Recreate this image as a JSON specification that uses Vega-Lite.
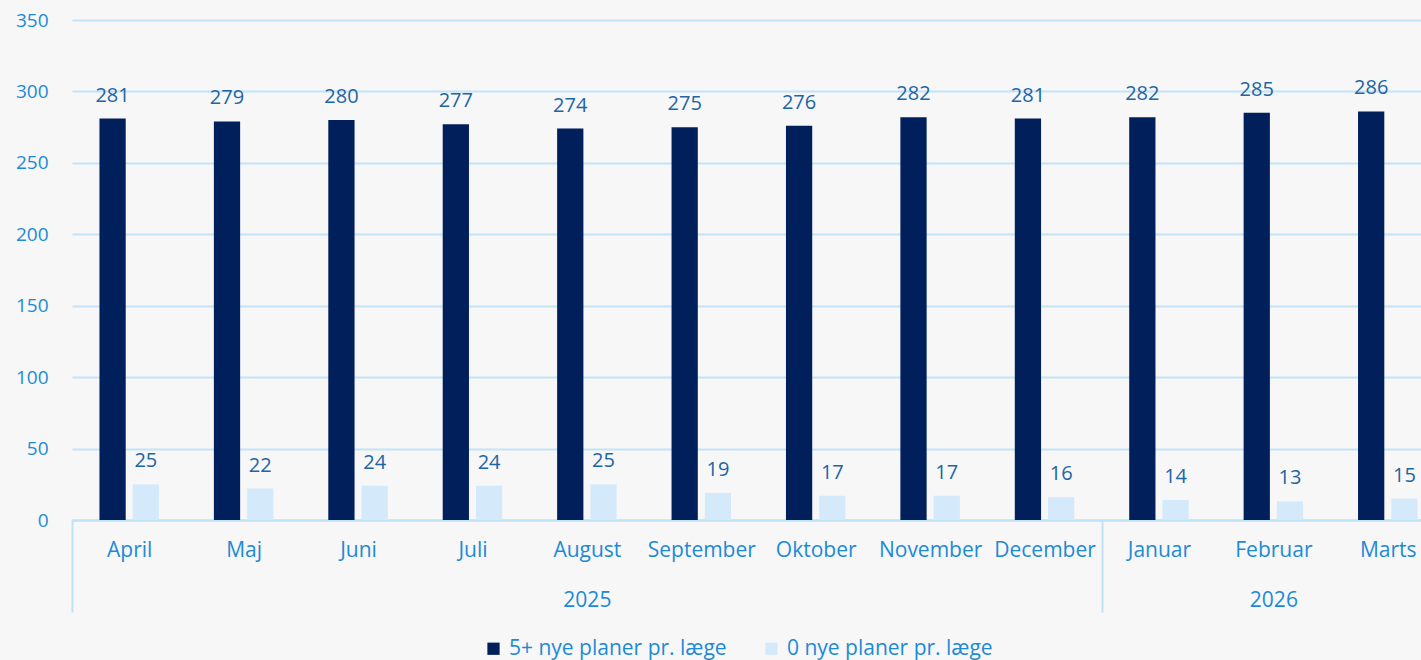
{
  "$schema": "https://vega.github.io/schema/vega-lite/v6.json",
  "autosize": "none",
  "width": 1349,
  "height": 500,
  "padding": {"left": 72, "top": 20, "right": 0, "bottom": 140},
  "background": "#f7f7f7",
  "config": {
    "view": {"stroke": null},
    "font": "Open Sans",
    "axis": {"labelFont": "Open Sans", "labelColor": "#1c8ad6"},
    "legend": {"labelFont": "Open Sans"}
  },
  "data": {
    "values": [
      {"month": "April", "series": "5+ nye planer pr. læge", "value": 281},
      {"month": "Maj", "series": "5+ nye planer pr. læge", "value": 279},
      {"month": "Juni", "series": "5+ nye planer pr. læge", "value": 280},
      {"month": "Juli", "series": "5+ nye planer pr. læge", "value": 277},
      {"month": "August", "series": "5+ nye planer pr. læge", "value": 274},
      {"month": "September", "series": "5+ nye planer pr. læge", "value": 275},
      {"month": "Oktober", "series": "5+ nye planer pr. læge", "value": 276},
      {"month": "November", "series": "5+ nye planer pr. læge", "value": 282},
      {"month": "December", "series": "5+ nye planer pr. læge", "value": 281},
      {"month": "Januar", "series": "5+ nye planer pr. læge", "value": 282},
      {"month": "Februar", "series": "5+ nye planer pr. læge", "value": 285},
      {"month": "Marts", "series": "5+ nye planer pr. læge", "value": 286},
      {"month": "April", "series": "0 nye planer pr. læge", "value": 25},
      {"month": "Maj", "series": "0 nye planer pr. læge", "value": 22},
      {"month": "Juni", "series": "0 nye planer pr. læge", "value": 24},
      {"month": "Juli", "series": "0 nye planer pr. læge", "value": 24},
      {"month": "August", "series": "0 nye planer pr. læge", "value": 25},
      {"month": "September", "series": "0 nye planer pr. læge", "value": 19},
      {"month": "Oktober", "series": "0 nye planer pr. læge", "value": 17},
      {"month": "November", "series": "0 nye planer pr. læge", "value": 17},
      {"month": "December", "series": "0 nye planer pr. læge", "value": 16},
      {"month": "Januar", "series": "0 nye planer pr. læge", "value": 14},
      {"month": "Februar", "series": "0 nye planer pr. læge", "value": 13},
      {"month": "Marts", "series": "0 nye planer pr. læge", "value": 15}
    ]
  },
  "encoding": {
    "x": {
      "field": "month",
      "type": "nominal",
      "sort": ["April", "Maj", "Juni", "Juli", "August", "September", "Oktober", "November", "December", "Januar", "Februar", "Marts"],
      "scale": {"range": [0, 1373], "paddingInner": 0.48, "paddingOuter": 0.24}
    },
    "xOffset": {
      "field": "series",
      "type": "nominal",
      "sort": ["5+ nye planer pr. læge", "0 nye planer pr. læge"],
      "scale": {"paddingInner": 0.21, "paddingOuter": 0}
    },
    "y": {
      "field": "value",
      "type": "quantitative",
      "scale": {"domain": [0, 350], "nice": false},
      "axis": {
        "title": null,
        "values": [0, 50, 100, 150, 200, 250, 300, 350],
        "grid": true,
        "gridColor": "#c3e4f7",
        "gridWidth": 2,
        "domain": false,
        "ticks": false,
        "labelPadding": 24,
        "labelFontSize": 19,
        "labelColor": "#1c8ad6"
      }
    }
  },
  "layer": [
    {
      "mark": {"type": "bar"},
      "encoding": {
        "x": {
          "field": "month",
          "type": "nominal",
          "sort": ["April", "Maj", "Juni", "Juli", "August", "September", "Oktober", "November", "December", "Januar", "Februar", "Marts"],
          "axis": {
            "title": null,
            "orient": "bottom",
            "offset": 0,
            "labelAngle": 0,
            "labelFontSize": 21,
            "labelColor": "#1c8ad6",
            "ticks": true,
            "tickSize": 92,
            "tickWidth": 2,
            "tickOffset": 57.2,
            "labelOffset": -57.2,
            "tickColor": {"condition": {"test": "datum.value == 'December'", "value": "#bfe2f8"}, "value": "transparent"},
            "labelPadding": -73,
            "domain": true,
            "domainColor": "#bfe2f8",
            "domainWidth": 2,
            "grid": false
          }
        },
        "color": {
          "field": "series",
          "type": "nominal",
          "sort": ["5+ nye planer pr. læge", "0 nye planer pr. læge"],
          "scale": {"range": ["#001f5b", "#d4eafb"]},
          "legend": {
            "title": null,
            "orient": "none",
            "legendX": 411,
            "legendY": 618,
            "direction": "horizontal",
            "symbolType": "square",
            "symbolSize": 150,
            "symbolStrokeWidth": 0,
            "labelFontSize": 21,
            "labelLimit": 0,
            "labelColor": "#1c8ad6",
            "columnPadding": 34,
            "labelOffset": 5
          }
        }
      }
    },
    {
      "mark": {"type": "text", "baseline": "bottom", "dy": -13, "fontSize": 20, "color": "#1c65a6"},
      "encoding": {
        "x": {
          "field": "month",
          "type": "nominal",
          "sort": ["April", "Maj", "Juni", "Juli", "August", "September", "Oktober", "November", "December", "Januar", "Februar", "Marts"],
          "axis": {
            "title": null,
            "orient": "bottom",
            "offset": 0,
            "labelAngle": 0,
            "labelFontSize": 21,
            "labelColor": "#1c8ad6",
            "labelExpr": "datum.value == 'August' ? '2025' : datum.value == 'Februar' ? '2026' : ''",
            "domain": false,
            "grid": false,
            "ticks": true,
            "tickSize": 92,
            "tickWidth": 2,
            "tickOffset": -57.2,
            "labelOffset": 57.2,
            "tickColor": {"condition": {"test": "datum.value == 'April'", "value": "#bfe2f8"}, "value": "transparent"},
            "labelPadding": -23
          }
        },
        "text": {"field": "value", "type": "quantitative"}
      }
    }
  ],
  "resolve": {"axis": {"x": "independent"}}
}
